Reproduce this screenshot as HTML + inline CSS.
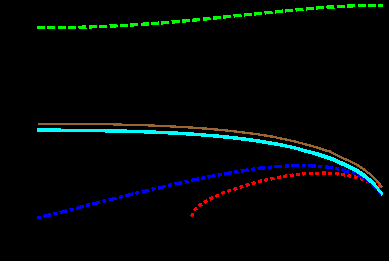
<!DOCTYPE html>
<html><head><meta charset="utf-8"><style>
html,body{margin:0;padding:0;background:#000;overflow:hidden;font-family:"Liberation Sans",sans-serif;}
svg{display:block}
polyline{fill:none;stroke-linecap:butt;stroke-linejoin:miter}
</style></head><body>
<svg width="389" height="261" viewBox="0 0 389 261" shape-rendering="crispEdges">
<rect width="389" height="261" fill="#000"/>
<polyline points="191.3,217.4 192.2,215 195,209.5 199.5,205.5 205,202 211,198.5 216.5,196 222.5,193 228.5,191 235,188.9 241,186.9 247,185.1 253.3,183.2 260,181.3 266,180 272,178.8 278,177.6 285,176.3 291,175.3 298,174.5 304,173.8 311,173.3 317,173.3 323.5,173 330.5,173.3 337,173.8 343,174.5 349,175.8 355.5,177 362,179 368,181.6 372,182.6 375.5,183.6 379.3,186.6 381.3,188.2" stroke="#ff0000" stroke-width="3.4" stroke-dasharray="4 2.45" stroke-dashoffset="-0.8"/>
<polyline points="37,218 39,217.5 47,215.5 55.5,213.75 64,211.5 72,209.4 78,208 82,206.7 88,205 96,203.2 104,201 112.5,199.2 121,197 127.5,195.5 131,194.6 137,193 145,191.3 153,189 161.7,187.4 170,185 177,183.5 181,183 186,181.6 194,179.8 203,178 211,176.4 219,174.9 226.5,173.5 230.5,172.8 236,172 244,170.6 252.5,169.3 261,168 269,167.4 277,166.5 286,166 294,165.5 303,165.3 311,165.8 320,166.3 327,167 336,168.6 341,169.5 348,172 353,172.6 357,174.3 365,178.4 371.5,183.8 376,187.8 380,191.6 382.4,194.3" stroke="#0000ff" stroke-width="3.4" stroke-dasharray="4 2.45 8 2.45" stroke-dashoffset="0"/>
<polyline points="37,27.5 72,27.5 102,26.5 123,25.5 139,24.5 153.5,23.5 167.5,22.5 178.5,21.5 189.5,20.5 200,19.5 210,18.5 220,17.5 228.5,16.5 238,15.5 249,14.5 259,13.5 269,12.5 279,11.5 289.5,10.5 300,9.5 310.5,8.5 321,7.5 330,7.0 337,6.75 345,6.25 353,5.8 365,5.5 383,5.5" stroke="#00ff00" stroke-width="3.35" stroke-dasharray="8 2.37"/>
<polyline points="37,130 61,130.2 104,130.8 127,131.2 144,131.8 156,132.2 168,132.8 178,133.2 185.8,133.8 193.5,134.2 201,134.8 206,135.2 213,135.8 218.5,136.2 223,136.8 228.8,137.2 233,137.8 237.7,138.2 241,138.8 245.4,139.2 249,139.8 252.5,140.2 256,140.8 260,141.2 262,141.8 266,142.2 268,142.8 272,143.2 273.7,143.8 277.5,144.2 292.9,147.4 300,149.4 305.7,151.2 312.9,153 325.7,157.1 332,159.4 339.2,162.7 348.9,167 356.7,171 364.3,176.0 372,182.4 375.2,185.8" stroke="#00ffff" stroke-width="3.4"/>
<polyline points="300,149.4 305.7,151.05 312.9,152.6 325.7,156.4 332,158.6 339.2,161.9 348.9,166.2 356.7,170.2 364.3,175.3 372,182.0 375.2,185.6" stroke="#00ffff" stroke-width="3.4"/>
<polyline points="374.8,185.35 378.1,189.1 382.7,195" stroke="#00ffff" stroke-width="2.8"/>
<polyline points="38,124 90,124.1 113,124.35 122,124.65 148,125.35 155,125.65 170,126.35 175.6,126.65 188,127.35 192.9,127.65 202,128.35 206.7,128.65 214,129.35 218,129.65 225,130.35 227.8,130.65 234,131.35 236.4,131.65 242,132.35 244.8,132.65 250,133.35 252.5,133.65 257.6,134.35 260,134.65 264,135.35 267,135.65 270.5,136.35 273,136.65 275.6,137.35 277,137.65 292.9,141 305.7,144.4 312.9,146.3 318.6,148 325.7,150.4 330,151.5 339,156.2 349,160.9 356.7,164.6 364.3,169.7 372,175.7 378.1,181.9 382,187.3" stroke="#996633" stroke-width="2.3"/>
</svg>
</body></html>
